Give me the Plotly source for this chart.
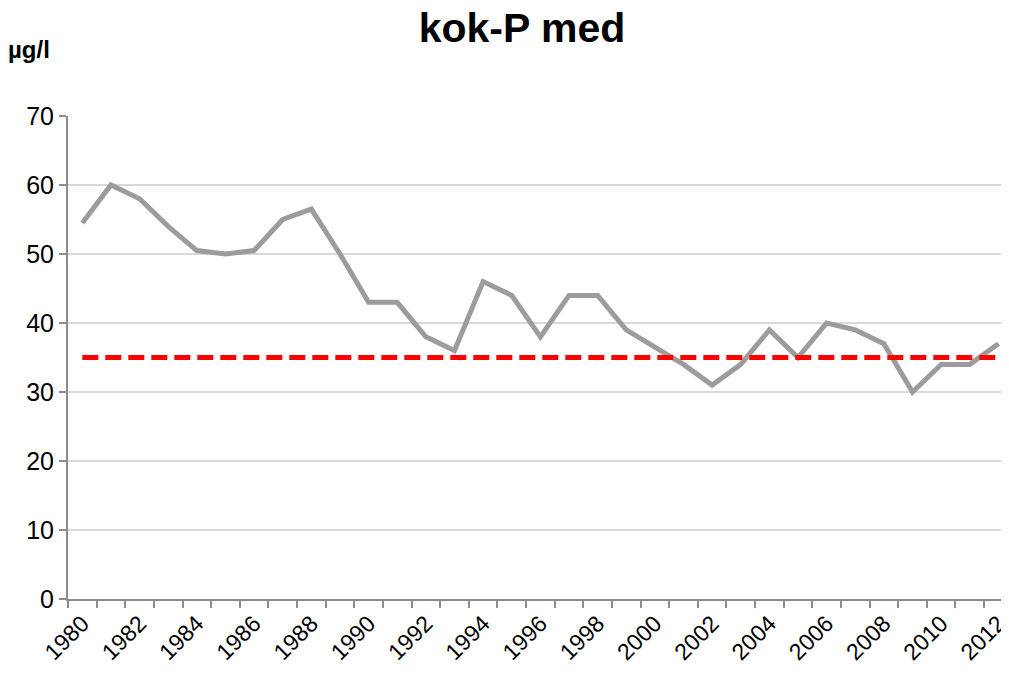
import plotly.graph_objects as go

years = list(range(1980, 2013))
values = [54.5, 60, 58, 54, 50.5, 50, 50.5, 55, 56.5, 50, 43, 43, 38, 36, 46, 44, 38,
          44, 44, 39, 36.5, 34, 31, 34, 39, 35, 40, 39, 37, 30, 34, 34, 37]
target = [35] * len(years)
tick_years = list(range(1980, 2013, 2))

fig = go.Figure()
fig.add_trace(go.Scatter(x=years, y=values, mode="lines",
                         line=dict(color="#9C9C9C", width=5), showlegend=False))
fig.add_trace(go.Scatter(x=years, y=target, mode="lines",
                         line=dict(color="#FF0000", width=5, dash="16px,7px"), showlegend=False))

# page body has an 8px default margin; figure sized to fill the rest of the window
fig.update_layout(
    width=1001, height=668,
    margin=dict(l=60, r=0, t=108, b=77),
    plot_bgcolor="white", paper_bgcolor="white",
    font=dict(family="Liberation Sans, Arial, sans-serif", color="black"),
    title=dict(text="<b>kok-P med</b>", x=0.5135, xanchor="center", y=0.971, yanchor="middle",
               font=dict(size=41, color="black")),
    annotations=[dict(text="<b>µg/l</b>", xref="paper", yref="paper", x=-0.066, y=1.138,
                      xanchor="left", yanchor="middle", showarrow=False,
                      font=dict(size=24, color="black"))],
)
fig.update_xaxes(range=[1979.5, 2012.37], tickmode="array", tickvals=tick_years,
                 ticktext=[str(y) for y in tick_years], tickangle=-45,
                 tickfont=dict(size=23), ticks="", showgrid=False, automargin=False,
                 ticklabeloverflow="allow",
                 showline=True, linecolor="#8C8C8C", linewidth=2,
                 minor=dict(tick0=1979.5, dtick=1, ticks="outside", ticklen=7,
                            tickcolor="#8C8C8C", tickwidth=2, showgrid=False))
fig.update_yaxes(range=[0, 70], dtick=10, tickfont=dict(size=25), automargin=False,
                 showgrid=True, gridcolor="#D9D9D9", gridwidth=1.5,
                 showline=True, linecolor="#8C8C8C", linewidth=2,
                 ticks="outside", ticklen=7, tickcolor="#8C8C8C", tickwidth=2,
                 zeroline=False)

fig.write_html("out.html")
